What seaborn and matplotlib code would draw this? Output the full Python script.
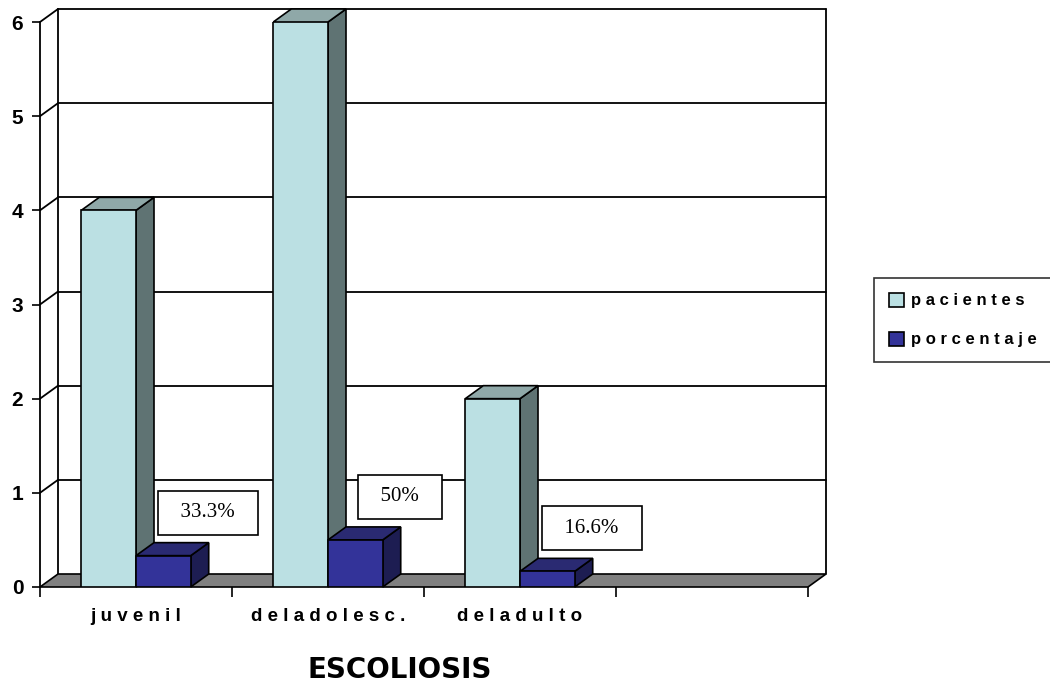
"""
Escoliosis: pacientes y porcentaje por tipo, barras estilo 3D (Excel).
"""
import matplotlib
matplotlib.use("Agg")
import matplotlib.pyplot as plt
import numpy as np
import pandas as pd
import seaborn as sns
from matplotlib.lines import Line2D
from matplotlib.patches import Patch, Polygon

# Datos
categorias = ["juvenil", "deladolesc.", "deladulto"]
etiquetas_x = ["j u v e n i l", "d e l a d o l e s c .", "d e l a d u l t o"]
series = ["pacientes", "porcentaje"]
etiquetas_serie = ["p a c i e n t e s", "p o r c e n t a j e"]
pacientes = [4, 6, 2]
porcentaje = [0.333, 0.5, 0.166]
y_ticks = [0, 1, 2, 3, 4, 5, 6]
titulo = "ESCOLIOSIS"

# Estilo: (frente, arriba, lado)
COLORES = {
    "pacientes": ("#BBE0E3", "#8FA8A8", "#5F7373"),
    "porcentaje": ("#333399", "#2A2A72", "#1D1D52"),
}
DX, DY = 18, 13          # profundidad 3D en pixeles
SANS = ["Liberation Sans", "DejaVu Sans"]

sns.set_style("ticks")
plt.rcParams["font.family"] = SANS
plt.rcParams["text.color"] = "black"

W, H = 1050, 686
fig = plt.figure(figsize=(W / 100, H / 100), dpi=100)
ax = fig.add_axes([40 / W, 99 / H, 768 / W, 565 / H])

df = pd.DataFrame({
    "categoria": categorias * 2,
    "serie": ["pacientes"] * 3 + ["porcentaje"] * 3,
    "valor": pacientes + porcentaje,
})

sns.barplot(data=df, x="categoria", y="valor", hue="serie", order=categorias,
            hue_order=series, palette=[COLORES[s][0] for s in series],
            width=0.57, gap=0, saturation=1, errorbar=None, legend=False,
            edgecolor="black", linewidth=1.2, zorder=3, ax=ax)

ax.set_xlim(-0.5, 3.5)
ax.set_ylim(0, 6)

to_fig = fig.transFigure.inverted()


def punto(x, y, prof=0.0):
    px, py = ax.transData.transform((x, y))
    return to_fig.transform((px + prof * DX, py + prof * DY))


def linea(p0, p1, **kw):
    ax.add_line(Line2D([p0[0], p1[0]], [p0[1], p1[1]], transform=fig.transFigure,
                       clip_on=False, color="black", **kw))


def cara(pts, color, z):
    ax.add_patch(Polygon(pts, closed=True, transform=fig.transFigure, clip_on=False,
                         facecolor=color, edgecolor="black", linewidth=1.2, zorder=z))


x0, x1 = ax.get_xlim()
ymax = y_ticks[-1]

# pared del fondo y lateral
for v in y_ticks[1:]:
    linea(punto(x0, v, 1), punto(x1, v, 1), lw=1.3, zorder=0.5)
    linea(punto(x0, v), punto(x0, v, 1), lw=1.3, zorder=0.5)
linea(punto(x0, 0, 1), punto(x0, ymax, 1), lw=1.3, zorder=0.5)
linea(punto(x1, 0, 1), punto(x1, ymax, 1), lw=1.3, zorder=0.5)

# piso
cara([punto(x0, 0), punto(x1, 0), punto(x1, 0, 1), punto(x0, 0, 1)], "#808080", 1)

# caras laterales y superiores de las barras
for k, (serie, cont) in enumerate(zip(series, ax.containers)):
    _, arriba, lado = COLORES[serie]
    for bar in cont:
        bx, bw, bh = bar.get_x(), bar.get_width(), bar.get_height()
        z = 2 + 0.1 * k
        cara([punto(bx + bw, 0), punto(bx + bw, 0, 1), punto(bx + bw, bh, 1),
              punto(bx + bw, bh)], lado, z)
        cara([punto(bx, bh), punto(bx + bw, bh), punto(bx + bw, bh, 1),
              punto(bx, bh, 1)], arriba, z)

# etiquetas de porcentaje
for bar in ax.containers[1]:
    v = bar.get_height()
    ax.annotate(f"  {v * 100:g}%  ", xy=(bar.get_x() + bar.get_width() / 2, v),
                xytext=(32, 31), textcoords="offset points", ha="center", va="center",
                fontsize=15, family="Liberation Serif", zorder=6, annotation_clip=False,
                bbox=dict(boxstyle="square,pad=0.6", fc="white", ec="black", lw=1.2))

# ejes
sns.despine(ax=ax, top=True, right=True, bottom=True)
ax.spines["left"].set_linewidth(1.3)
ax.spines["left"].set_color("black")
ax.set_yticks(y_ticks)
ax.set_yticklabels([str(t) for t in y_ticks], fontsize=15, fontweight="bold")
ax.set_xticks(range(len(categorias)))
ax.set_xticklabels(etiquetas_x, fontsize=13.5, fontweight="bold")
ax.set_xticks(np.arange(x0, x1 + 0.01, 1.0), minor=True)
ax.tick_params(axis="x", which="major", length=0, pad=15, colors="black")
ax.tick_params(axis="x", which="minor", length=7, width=1.2, color="black", direction="out")
ax.tick_params(axis="y", length=6, width=1.2, pad=6, colors="black", direction="out")
ax.set_xlabel("")
ax.set_ylabel("")

# leyenda
handles = [Patch(facecolor=COLORES[s][0], edgecolor="black", linewidth=1.2) for s in series]
leg = fig.legend(handles, etiquetas_serie, loc="center left",
                 bbox_to_anchor=(874 / W, 1 - 320 / H), frameon=True, fancybox=False,
                 handlelength=0.9, handleheight=0.9, handletextpad=0.4,
                 labelspacing=1.4, borderpad=0.9, borderaxespad=0,
                 prop={"family": SANS, "weight": "bold", "size": 12})
leg.get_frame().set_edgecolor("black")
leg.get_frame().set_linewidth(1.2)

fig.text(400 / W, 1 - 670 / H, titulo, ha="center", va="center", color="black",
         fontsize=20, fontweight="bold", family="DejaVu Sans")

fig.savefig("out.png", dpi=100)
